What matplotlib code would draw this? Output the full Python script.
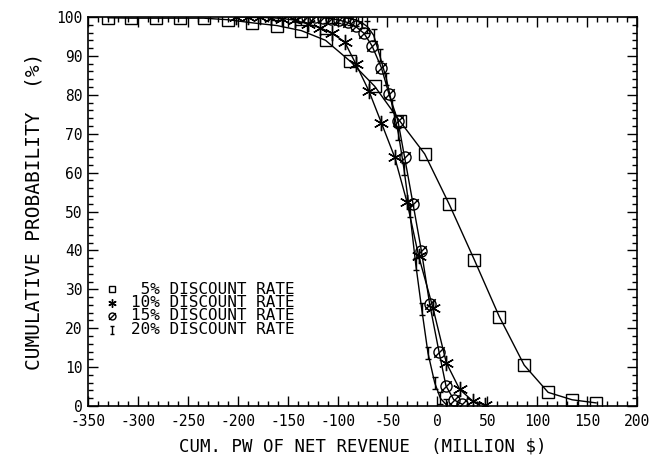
import matplotlib
matplotlib.use("Agg")
import matplotlib.pyplot as plt
from matplotlib.path import Path
from matplotlib.lines import Line2D
from matplotlib.ticker import MultipleLocator

# ---- data ----
x5 = [-330, -306.6, -281.6, -257.5, -234.2, -209.8, -185.4, -160.7, -136.3, -112, -87.2,
      -62.8, -37.8, -12.7, 12, 37, 62, 87, 111, 135, 159]
y5 = [99.8, 99.7, 99.7, 99.7, 99.7, 99.3, 98.5, 97.8, 96.5, 94.0, 88.6,
      82.2, 73.3, 64.8, 51.8, 37.6, 23.0, 10.5, 3.5, 1.6, 0.8]

x10 = [-201.4, -189.8, -178, -166.3, -155.3, -143, -129.7, -118, -105.4, -92.9, -81.4,
       -68.6, -56.1, -42.8, -30.5, -18.7, -4.4, 9, 22.3, 35.7, 47.4]
y10 = [100, 100, 99.9, 99.8, 99.6, 99.2, 98.2, 97.3, 95.8, 93.6, 87.8,
       81.0, 72.8, 64.0, 52.5, 38.5, 25.2, 11.1, 4.3, 1.2, 0.3]

x15 = [-139, -131, -123, -115, -106.5, -98.5, -90, -82, -73.5, -65.5, -56.1,
       -48.5, -39.5, -32.8, -24.4, -16, -7.7, 1.6, 8.6, 16.5, 24.5]
y15 = [100, 100, 100, 99.8, 99.6, 99.2, 98.6, 97.6, 95.8, 92.6, 87.0,
       80.2, 73.3, 63.9, 52.0, 39.9, 26.2, 14.0, 5.2, 1.6, 0.5]

x20 = [-112, -106, -100, -94, -88, -82, -76, -70, -63.8, -57.8, -51,
       -45, -39, -33.5, -27.8, -21.7, -15.7, -9.4, -2.7, 3, 9]
y20 = [100, 100, 100, 99.8, 99.6, 99.3, 98.6, 97.5, 95.3, 90.2, 84.0,
       77.0, 70.0, 61.0, 50.2, 36.5, 25.0, 13.6, 6.0, 2.0, 0.3]

labels = [" 5% DISCOUNT RATE", "10% DISCOUNT RATE", "15% DISCOUNT RATE", "20% DISCOUNT RATE"]
xticks = list(range(-350, 201, 50))
yticks = list(range(0, 101, 10))

# ---- custom markers ----
phi = Path.make_compound_path(
    Path.unit_circle(),
    Path([(-0.95, -0.95), (0.95, 0.95)], [Path.MOVETO, Path.LINETO]))
ibeam = Path([(-0.55, 1), (0.55, 1), (0, 1), (0, -1), (-0.55, -1), (0.55, -1)],
             [Path.MOVETO, Path.LINETO, Path.MOVETO, Path.LINETO, Path.MOVETO, Path.LINETO])
aster = (6, 2, 0)

FONT = ['DejaVu Sans Mono']
plt.rcParams['axes.unicode_minus'] = False
plt.rcParams['font.family'] = FONT

W, H = 656, 462
fig = plt.figure(figsize=(W / 100, H / 100), dpi=100)
ax = fig.add_axes([88 / W, 1 - 406 / H, (637 - 88) / W, (406 - 17) / H])

lw = 1.0
ax.plot(x5, y5, color='black', lw=lw, marker='s', ms=9, mfc='none', mec='black', mew=1.0)
ax.plot(x10, y10, color='black', lw=lw, marker=aster, ms=11, mec='black', mew=1.0)
ax.plot(x15, y15, color='black', lw=lw, marker=phi, ms=8, mfc='none', mec='black', mew=1.0)
ax.plot(x20, y20, color='black', lw=lw, marker=ibeam, ms=9, mfc='none', mec='black', mew=1.0)

ax.set_xlim(-350, 200)
ax.set_ylim(0, 100)
ax.set_xticks(xticks)
ax.set_yticks(yticks)
ax.xaxis.set_minor_locator(MultipleLocator(10))
ax.yaxis.set_minor_locator(MultipleLocator(2))
ax.tick_params(which='both', direction='in', top=True, right=True, width=1.0, color='black')
ax.tick_params(which='major', length=7, labelsize=10.5)
ax.tick_params(axis='x', which='major', pad=6)
ax.tick_params(axis='y', which='major', pad=4)
ax.tick_params(which='minor', length=3.5)
for s in ax.spines.values():
    s.set_linewidth(1.2)

ax.set_xlabel("CUM. PW OF NET REVENUE  (MILLION $)", fontsize=12.5, labelpad=6)
ax.set_ylabel("CUMULATIVE PROBABILITY  (%)", fontsize=14, labelpad=9)

# ---- legend (symbol + text rows) ----
leg_styles = [
    dict(marker='s', ms=5, mfc='none'),
    dict(marker=aster, ms=6),
    dict(marker=phi, ms=5, mfc='none'),
    dict(marker=ibeam, ms=6, mfc='none'),
]
row_y = [289, 302.5, 316, 329.5]
for lab, st, yy in zip(labels, leg_styles, row_y):
    fig.add_artist(Line2D([112 / W], [1 - yy / H], transform=fig.transFigure, ls='none',
                          mec='black', mew=1.0, **st))
    fig.text(131 / W, 1 - yy / H, lab, ha='left', va='center', fontsize=11.5, family=FONT)

fig.savefig("out.png", dpi=100)
